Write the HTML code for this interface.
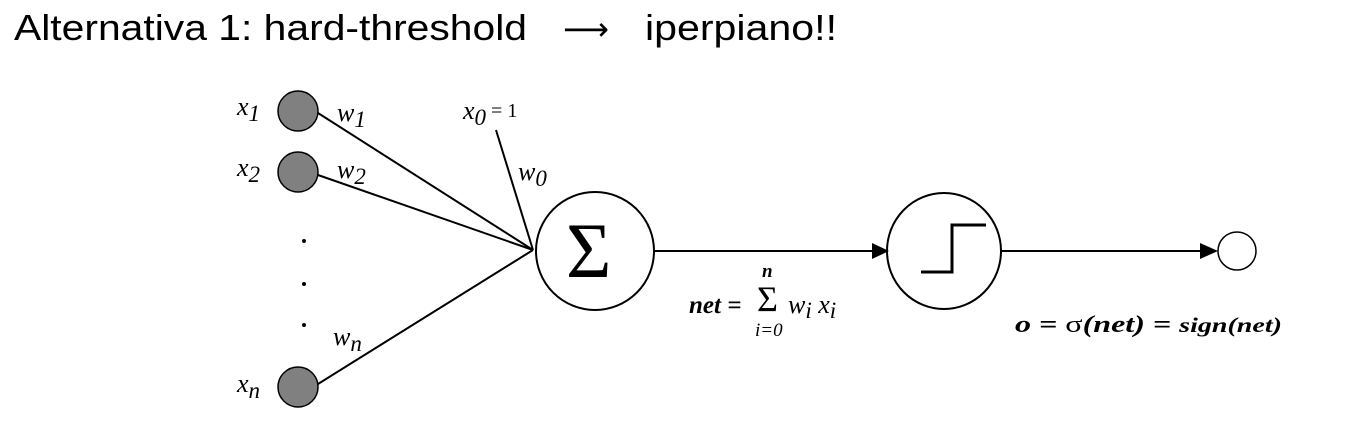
<!DOCTYPE html>
<html><head><meta charset="utf-8"><style>
body{margin:0;background:#fff;width:1348px;height:434px;overflow:hidden}
svg{display:block}
.m{font-family:"Liberation Serif",serif;font-style:italic;fill:#000}
</style></head><body>
<svg width="1348" height="434">
<text x="14" y="40" style="font-family:'Liberation Sans',sans-serif;font-size:36px" textLength="513" lengthAdjust="spacingAndGlyphs">Alternativa 1: hard-threshold</text>
<text x="563" y="40" style="font-family:'DejaVu Sans',sans-serif;font-size:32px">⟶</text>
<text x="645" y="40" style="font-family:'Liberation Sans',sans-serif;font-size:36px" textLength="192" lengthAdjust="spacingAndGlyphs">iperpiano!!</text>
<g stroke="#000" stroke-width="2" fill="none">
<line x1="318" y1="113" x2="533" y2="250"/>
<line x1="318" y1="175" x2="533" y2="250"/>
<line x1="318" y1="384" x2="533" y2="250"/>
<line x1="496" y1="130" x2="533" y2="250"/>
<circle cx="595" cy="251" r="59"/>
<line x1="655" y1="251" x2="872" y2="251"/>
<ellipse cx="944" cy="251" rx="57" ry="58"/>
<polyline points="921,272 952,272 952,225 986,225" stroke-width="3"/>
<line x1="1001" y1="251" x2="1200" y2="251"/>
<circle cx="1237" cy="251" r="19" stroke-width="1.5"/>
</g>
<polygon points="872,243 889,251 872,259" fill="#000"/>
<polygon points="1200,243 1218,251 1200,259" fill="#000"/>
<g fill="#808080" stroke="#000" stroke-width="1.5">
<circle cx="298" cy="111" r="20"/>
<circle cx="298" cy="172" r="20"/>
<circle cx="298" cy="387" r="20"/>
</g>
<g fill="#000">
<circle cx="304" cy="241" r="2"/><circle cx="304" cy="284" r="2"/><circle cx="304" cy="325" r="2"/>
</g>
<text x="566" y="277" style="font-family:'Liberation Serif',serif;font-size:78px">Σ</text>
<g class="m" style="font-size:26px">
<text x="237" y="115">x<tspan style="font-size:23px" dy="6">1</tspan></text>
<text x="237" y="176">x<tspan style="font-size:23px" dy="6">2</tspan></text>
<text x="237" y="392">x<tspan style="font-size:23px" dy="6">n</tspan></text>
<text x="337" y="121">w<tspan style="font-size:23px" dy="6">1</tspan></text>
<text x="337" y="178">w<tspan style="font-size:23px" dy="6">2</tspan></text>
<text x="333" y="345">w<tspan style="font-size:23px" dy="6">n</tspan></text>
<text x="518" y="180">w<tspan style="font-size:23px" dy="6">0</tspan></text>
<text x="463" y="119">x<tspan style="font-size:23px" dy="6">0</tspan><tspan style="font-style:normal;font-size:20px" dy="-8"> = 1</tspan></text>
</g>
<g class="m" style="font-weight:bold">
<text x="689" y="313" style="font-size:25px">net =</text>
<text x="762" y="277" style="font-size:19px">n</text>
<text x="757" y="311" style="font-size:36px;font-style:normal;font-weight:normal">Σ</text>
<text x="755" y="336" style="font-size:19px;font-weight:normal">i=0</text>
<text x="788" y="313" style="font-size:26px;font-weight:normal">w<tspan style="font-size:23px" dy="5">i</tspan><tspan dy="-5"> x</tspan><tspan style="font-size:23px" dy="5">i</tspan></text>
<text x="1015" y="332" style="font-size:24px" textLength="267" lengthAdjust="spacingAndGlyphs">o = <tspan style="font-style:normal;font-weight:normal">σ</tspan>(net) =  <tspan style="font-size:21px">sign(net)</tspan></text>
</g>
</svg>
</body></html>
